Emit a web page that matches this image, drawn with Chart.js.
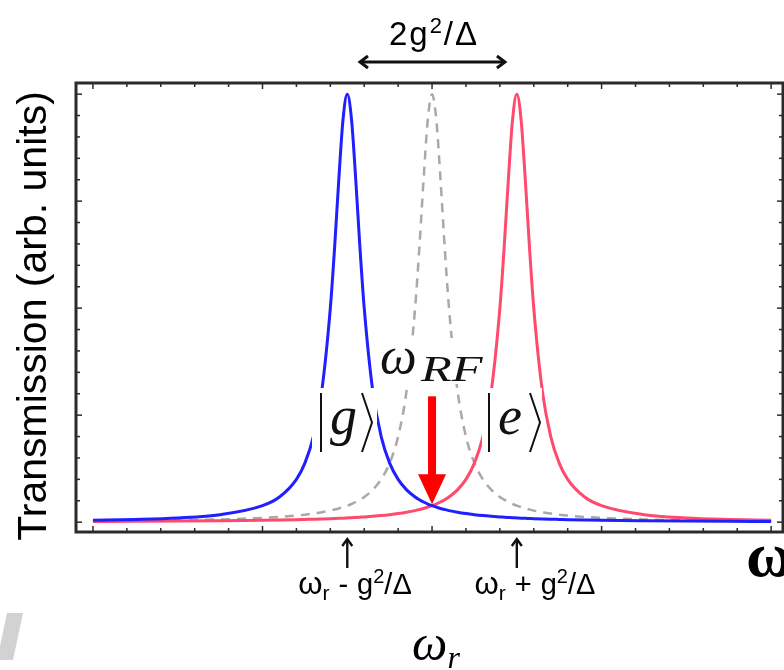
<!DOCTYPE html>
<html>
<head>
<meta charset="utf-8">
<script src="https://cdn.jsdelivr.net/npm/chart.js@4.4.0/dist/chart.umd.min.js"></script>
<style>
  html, body { margin: 0; padding: 0; background: #fff; }
</style>
</head>
<body>
<canvas id="transChart" width="784" height="670"></canvas>
<script>
// probe frequency (arb. units, omega_r sits at 2)
const freq = [0, 0.25, 0.5, 0.75, 1, 1.1, 1.2, 1.25, 1.3, 1.35, 1.4, 1.425, 1.45, 1.475, 1.5, 1.525, 1.55, 1.575, 1.6, 1.65, 1.7, 1.75, 1.8, 1.85, 1.9, 1.925, 1.95, 1.975, 2,
  2.025, 2.05, 2.075, 2.1, 2.15, 2.2, 2.25, 2.3, 2.35, 2.4, 2.425, 2.45, 2.475, 2.5, 2.525, 2.55, 2.575, 2.6, 2.65, 2.7, 2.75, 2.8, 2.9, 3, 3.25, 3.5, 3.75, 4];

// |g> peak (blue)
const gState = [0.0044, 0.0064, 0.0099, 0.0175, 0.0385, 0.0588, 0.1, 0.138, 0.2, 0.308, 0.5, 0.64, 0.8, 0.941, 1.0, 0.941, 0.8, 0.64, 0.5, 0.308, 0.2, 0.138, 0.1, 0.0755, 0.0588, 0.0525, 0.0471, 0.0424, 0.0385,
  0.035, 0.032, 0.0294, 0.027, 0.0231, 0.02, 0.0175, 0.0154, 0.0137, 0.0122, 0.0116, 0.011, 0.0104, 0.0099, 0.0094, 0.009, 0.0086, 0.0082, 0.0075, 0.0069, 0.0064, 0.0059, 0.0051, 0.0044, 0.0033, 0.0025, 0.002, 0.0016];

// |e> peak (red)
const eState = [0.0016, 0.002, 0.0025, 0.0033, 0.0044, 0.0051, 0.0059, 0.0064, 0.0069, 0.0075, 0.0082, 0.0086, 0.009, 0.0094, 0.0099, 0.0104, 0.011, 0.0116, 0.0122, 0.0137, 0.0154, 0.0175, 0.02, 0.0231, 0.027, 0.0294, 0.032, 0.035, 0.0385,
  0.0424, 0.0471, 0.0525, 0.0588, 0.0755, 0.1, 0.138, 0.2, 0.308, 0.5, 0.64, 0.8, 0.941, 1.0, 0.941, 0.8, 0.64, 0.5, 0.308, 0.2, 0.138, 0.1, 0.0588, 0.0385, 0.0175, 0.0099, 0.0064, 0.0044];

// bare cavity (gray dashed)
const bare = [0.0025, 0.0033, 0.0044, 0.0064, 0.0099, 0.0122, 0.0154, 0.0175, 0.02, 0.0231, 0.027, 0.0294, 0.032, 0.035, 0.0385, 0.0424, 0.0471, 0.0525, 0.0588, 0.0755, 0.1, 0.138, 0.2, 0.308, 0.5, 0.64, 0.8, 0.941, 1.0,
  0.941, 0.8, 0.64, 0.5, 0.308, 0.2, 0.138, 0.1, 0.0755, 0.0588, 0.0525, 0.0471, 0.0424, 0.0385, 0.035, 0.032, 0.0294, 0.027, 0.0231, 0.02, 0.0175, 0.0154, 0.0122, 0.0099, 0.0064, 0.0044, 0.0033, 0.0025];

// marked frequencies
const peakMarks = [1.5, 2.5];   // omega_r -/+ g^2/Delta
const rfFreq = 2;               // omega_RF arrow
const splitSpan = [1.575, 2.43]; // 2g^2/Delta arrow

const toPts = arr => freq.map((f, i) => ({ x: f, y: arr[i] }));

const SANS = '"Liberation Sans", Arial, sans-serif';
const SERIF = '"Liberation Serif", "Times New Roman", serif';

// draw a row of text pieces (sub/superscripts, gaps) centred on cx
function drawRuns(ctx, cx, base, runs) {
  let w = 0;
  runs.forEach(r => {
    if (r.gap) { r.w = r.gap; } else { ctx.font = r.font; r.w = ctx.measureText(r.t).width; }
    w += r.w;
  });
  let x = cx - w / 2;
  runs.forEach(r => {
    if (!r.gap) { ctx.font = r.font; ctx.fillText(r.t, x, base + (r.dy || 0)); }
    x += r.w;
  });
}

function seg(ctx, x1, y1, x2, y2) {
  ctx.beginPath(); ctx.moveTo(x1, y1); ctx.lineTo(x2, y2); ctx.stroke();
}

function ket(ctx, x, top, letter, w) {
  // |letter> drawn as bar + italic letter + angle bracket
  const bot = top + 59;
  ctx.lineWidth = 2;
  seg(ctx, x, top, x, bot);
  ctx.font = 'italic 54px ' + SERIF;
  ctx.textAlign = 'left';
  ctx.fillText(letter, x + 9, top + 41);
  const bx = x + w;
  ctx.beginPath();
  ctx.moveTo(bx, top); ctx.lineTo(bx + 10, top + 29.5); ctx.lineTo(bx, bot);
  ctx.stroke();
}

const annotations = {
  id: 'annotations',
  afterDatasetsDraw(chart) {
    const { ctx, scales: { x, y } } = chart;
    ctx.save();
    ctx.fillStyle = '#fff';
    // white boxes behind the in-plot labels
    ctx.fillRect(312, 388, 65, 68);
    ctx.fillRect(482, 388, 60, 70);
    ctx.fillRect(378, 338, 112, 46);

    ctx.fillStyle = '#111';
    ctx.strokeStyle = '#111';
    ket(ctx, 321, 393, 'g', 41);
    ket(ctx, 489, 393, 'e', 41);

    ctx.textAlign = 'left';
    ctx.textBaseline = 'alphabetic';
    ctx.font = 'italic 52px ' + SERIF;
    ctx.fillText('\u03c9', 380, 373);
    ctx.save();
    ctx.translate(421, 381);
    ctx.scale(1.4, 1);
    ctx.font = 'italic 36px ' + SERIF;
    ctx.fillText('RF', 0, 0);
    ctx.restore();

    // red arrow pointing at the crossing
    const ax = x.getPixelForValue(rfFreq);
    const top = y.getPixelForValue(0.294);
    const tip = y.getPixelForValue(0.042);
    ctx.fillStyle = '#ff0000';
    ctx.fillRect(ax - 4, top, 8, tip - top - 28);
    ctx.beginPath();
    ctx.moveTo(ax - 14, tip - 30); ctx.lineTo(ax + 14, tip - 30); ctx.lineTo(ax, tip);
    ctx.closePath(); ctx.fill();
    ctx.restore();
  },
  afterDraw(chart) {
    const { ctx, chartArea: a, scales: { x, y } } = chart;
    ctx.save();
    ctx.strokeStyle = '#2b2b2b';
    ctx.lineWidth = 1.5;
    for (let i = 0; i <= 20; i++) {
      const px = x.getPixelForValue(i * 0.2);
      const len = i % 5 === 0 ? 6 : 4;
      seg(ctx, px, a.bottom, px, a.bottom - len);
      seg(ctx, px, a.top, px, a.top + len);
    }
    for (let i = 0; i <= 20; i++) {
      const py = y.getPixelForValue(i * 0.05);
      const len = i % 5 === 0 ? 6 : 4;
      seg(ctx, a.left, py, a.left + len, py);
      seg(ctx, a.right, py, a.right - len, py);
    }
    ctx.lineWidth = 3;
    ctx.strokeRect(a.left, a.top, a.right - a.left, a.bottom - a.top);

    // y axis title
    ctx.fillStyle = '#000';
    ctx.save();
    ctx.translate(46, 316);
    ctx.rotate(-Math.PI / 2);
    ctx.textAlign = 'center';
    ctx.font = '41px ' + SANS;
    ctx.fillText('Transmission (arb. units)', 0, 0);
    ctx.restore();

    // splitting label and double arrow
    ctx.textAlign = 'left';
    ctx.letterSpacing = '2px';
    drawRuns(ctx, 434, 45, [
      { t: '2g', font: '33px ' + SANS },
      { t: '2', font: '22px ' + SANS, dy: -12 },
      { t: '/\u0394', font: '33px ' + SANS }
    ]);
    ctx.letterSpacing = '0px';
    const x1 = x.getPixelForValue(splitSpan[0]);
    const x2 = x.getPixelForValue(splitSpan[1]);
    ctx.strokeStyle = '#111';
    ctx.lineWidth = 3;
    seg(ctx, x1, 62, x2, 62);
    ctx.beginPath();
    ctx.moveTo(x1 + 8, 56); ctx.lineTo(x1, 62); ctx.lineTo(x1 + 8, 68);
    ctx.moveTo(x2 - 8, 56); ctx.lineTo(x2, 62); ctx.lineTo(x2 - 8, 68);
    ctx.stroke();

    // small arrows under the peaks
    ctx.lineWidth = 2.4;
    peakMarks.forEach(v => {
      const px = x.getPixelForValue(v);
      seg(ctx, px, 540, px, 568);
      ctx.beginPath();
      ctx.moveTo(px - 5, 546); ctx.lineTo(px, 539); ctx.lineTo(px + 5, 546);
      ctx.stroke();
    });
    const lab = sign => [
      { t: '\u03c9', font: '31px ' + SANS },
      { t: 'r', font: '21px ' + SANS, dy: 6 },
      { gap: 9 },
      { t: sign, font: '29px ' + SANS },
      { gap: 9 },
      { t: 'g', font: '29px ' + SANS },
      { t: '2', font: '20px ' + SANS, dy: -11 },
      { t: '/\u0394', font: '29px ' + SANS }
    ];
    drawRuns(ctx, 355, 594, lab('-'));
    drawRuns(ctx, 535, 594, lab('+'));

    // omega_r below the axis
    drawRuns(ctx, 436, 660, [
      { t: '\u03c9', font: 'italic 50px ' + SERIF },
      { t: 'r', font: 'italic 32px ' + SERIF, dy: 8 }
    ]);

    // big omega at right edge
    ctx.font = 'bold 64px ' + SERIF;
    ctx.fillText('\u03c9', 746, 576);

    // faint gray shape at bottom-left
    ctx.fillStyle = '#d2d2d2';
    ctx.beginPath();
    ctx.moveTo(7, 613); ctx.lineTo(23, 613); ctx.lineTo(13, 660); ctx.lineTo(-3, 660);
    ctx.closePath(); ctx.fill();
    ctx.restore();
  }
};

const data = {
  datasets: [
    {
      label: '|g>',
      data: toPts(gState),
      borderColor: '#1f1fff',
      borderWidth: 3,
      order: 1
    },
    {
      label: '|e>',
      data: toPts(eState),
      borderColor: '#ff4a6e',
      borderWidth: 3,
      order: 2
    },
    {
      label: 'bare',
      data: toPts(bare),
      borderColor: '#a9a9a9',
      borderWidth: 2.5,
      borderDash: [9, 7],
      order: 3
    }
  ]
};

const config = {
  type: 'line',
  data: data,
  options: {
    responsive: false,
    animation: false,
    layout: { padding: { left: 76, top: 83, right: 1, bottom: 138 } },
    elements: {
      point: { radius: 0 },
      line: { cubicInterpolationMode: 'monotone', fill: false }
    },
    plugins: {
      legend: { display: false },
      tooltip: { enabled: false }
    },
    scales: {
      x: { type: 'linear', min: -0.1, max: 4.07, display: false },
      y: { min: -0.023, max: 1.026, display: false }
    }
  },
  plugins: [annotations]
};

const transChart = new Chart(document.getElementById('transChart'), config);
</script>
</body>
</html>
